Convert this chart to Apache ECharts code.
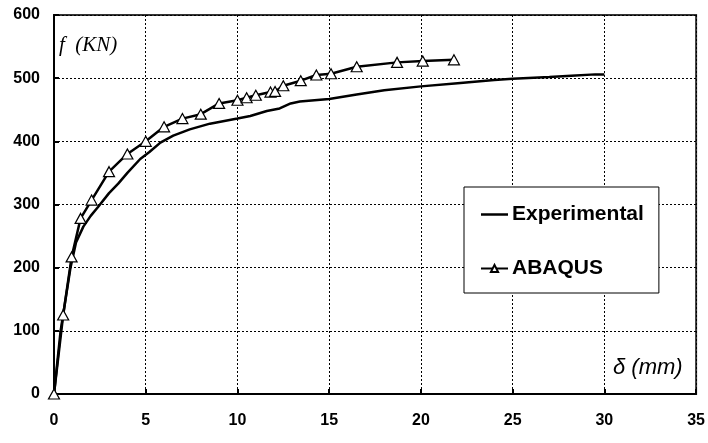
<!DOCTYPE html>
<html>
<head>
<meta charset="utf-8">
<script src="https://cdn.jsdelivr.net/npm/echarts@6/dist/echarts.min.js"></script>
<style>html,body{margin:0;padding:0;background:#fff;}#c{width:708px;height:443px;}</style>
</head>
<body>
<div id="c"></div>
<script>
var seriesNames = ['Experimental', 'ABAQUS'];
var experimental = [[0,0],[0.36,100],[0.9,200],[1.2,240],[1.6,265],[2.0,282],[2.4,296],[3.0,318],[3.5,333],[4.0,350],[4.7,372],[5.2,383],[5.8,398],[6.5,409],[7.4,419],[8.5,428],[10.0,436],[10.7,440],[11.6,448],[12.3,452],[12.9,460],[13.4,463],[15.0,467],[16.5,474],[18.0,481],[20.0,487],[22.0,492],[24.0,497],[25.0,499],[27.0,502],[28.2,504],[29.5,506],[30.0,506]];
var abaqus = [[0,0],[0.5,125],[0.96,217],[1.45,278],[2.05,307],[3.0,352],[4.0,380],[5.0,400],[6.0,423],[7.0,436],[8.0,443],[9.0,460],[10.0,465],[10.5,469],[11.0,473],[11.8,478],[12.05,479],[12.5,488],[13.45,496],[14.3,505],[15.1,507],[16.5,518],[18.7,525],[20.1,527],[21.8,529]];
var xTicks = [0,5,10,15,20,25,30,35];
var yTicks = [0,100,200,300,400,500,600];
var yTitle = 'f  (KN)';
var xTitle = 'δ (mm)';

var chart = echarts.init(document.getElementById('c'));
chart.setOption({
  backgroundColor: '#fff',
  animation: false,
  grid: {left: 54, right: 11, top: 15, bottom: 49, show: true, borderColor: '#333', borderWidth: 2, backgroundColor: 'transparent'},
  xAxis: {
    type: 'value', min: xTicks[0], max: xTicks[xTicks.length-1], interval: 5,
    axisLine: {lineStyle: {color: '#000', width: 2}},
    axisTick: {inside: true, length: 5, lineStyle: {color: '#000', width: 2}},
    axisLabel: {color: '#000', fontFamily: 'Liberation Sans, Arial', fontWeight: 'bold', fontSize: 16, margin: 19},
    splitLine: {show: true, lineStyle: {color: '#000', width: 1, type: [2,2]}}
  },
  yAxis: {
    type: 'value', min: yTicks[0], max: yTicks[yTicks.length-1], interval: 100,
    axisLine: {show: true, lineStyle: {color: '#000', width: 2}},
    axisTick: {show: true, inside: true, length: 5, lineStyle: {color: '#000', width: 2}},
    axisLabel: {color: '#000', fontFamily: 'Liberation Sans, Arial', fontWeight: 'bold', fontSize: 16, margin: 14},
    splitLine: {show: true, lineStyle: {color: '#000', width: 1, type: [2,2]}}
  },
  legend: {
    orient: 'vertical', left: 464, top: 187,
    padding: [17, 15, 14, 16], itemGap: 33, itemWidth: 27, itemHeight: 9,
    backgroundColor: '#fff', borderColor: '#000', borderWidth: 1,
    textStyle: {color: '#000', fontFamily: 'Liberation Sans, Arial', fontWeight: 'bold', fontSize: 21, padding: [0,0,0,-1]},
    data: [{name: seriesNames[0], icon: 'path://M0,0 L27,0 L27,2.5 L0,2.5 Z'}, {name: seriesNames[1]}]
  },
  series: [
    {name: seriesNames[0], type: 'line', data: experimental, symbol: 'none', lineStyle: {color: '#000', width: 2.5}, itemStyle: {color: '#000'}, z: 3},
    {name: seriesNames[1], type: 'line', data: abaqus, symbol: 'triangle', symbolSize: [11, 10], showAllSymbol: true,
     lineStyle: {color: '#000', width: 2.5}, itemStyle: {color: '#fff', borderColor: '#000', borderWidth: 1.2}, z: 4}
  ],
  graphic: [
    {type: 'text', left: 59, top: 35, style: {text: yTitle, font: 'italic 21px "Liberation Serif", "Times New Roman", serif', fill: '#000'}},
    {type: 'text', left: 613, top: 357, style: {text: xTitle, font: 'italic 22px "Liberation Sans", Arial, sans-serif', fill: '#000'}}
  ]
});
</script>
</body>
</html>
